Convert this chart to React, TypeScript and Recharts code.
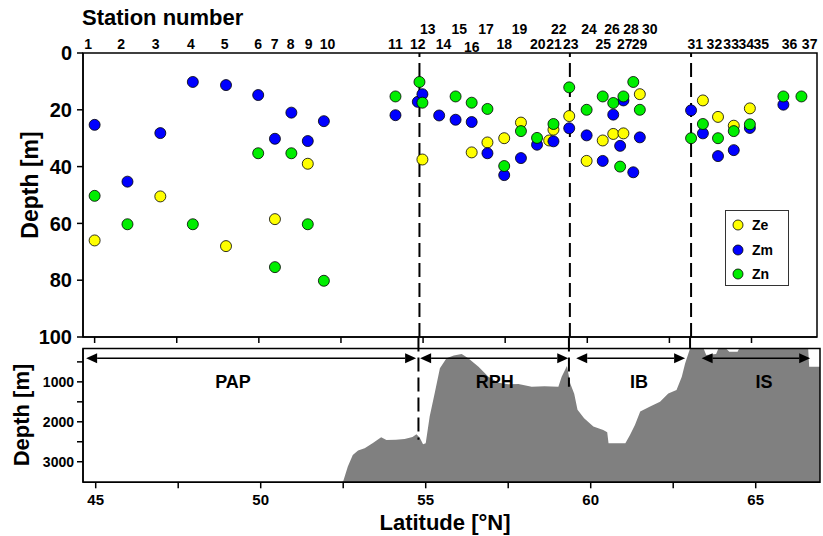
import React from "react";
import {
  ScatterChart,
  Scatter,
  ComposedChart,
  Area,
  XAxis,
  YAxis,
  ReferenceLine,
  ReferenceArea,
  ReferenceDot,
  Legend,
} from "recharts";

const FONT = "'Liberation Sans', Arial, sans-serif";

// station labels along the top: number, latitude of the label, row (0 low, 1 high, 2 dropped)
const stationNumbers = [
  1, 2, 3, 4, 5, 6, 7, 8, 9, 10, 11, 12, 13, 14, 15, 16, 17, 18, 19, 20, 21, 22, 23, 24, 25, 26, 27, 28,
  29, 30, 31, 32, 33, 34, 35, 36, 37,
];
const stationLabelLat = [
  44.8, 45.81, 46.86, 47.93, 48.96, 49.98, 50.48, 50.97, 51.52, 52.09, 54.16, 54.84, 55.14, 55.62, 56.1,
  56.48, 56.92, 57.47, 57.94, 58.49, 58.99, 59.13, 59.5, 60.05, 60.49, 60.75, 61.14, 61.33, 61.59, 61.9,
  63.29, 63.87, 64.38, 64.84, 65.3, 66.16, 66.77,
];
const stationRow = [
  0, 0, 0, 0, 0, 0, 0, 0, 0, 0, 0, 0, 1, 0, 1, 2, 1, 0, 1, 0, 0, 1, 0, 1, 0, 1, 0, 1, 0, 1, 0, 0, 0, 0, 0,
  0, 0,
];

// euphotic depth
const zeData = [
  { lat: 45.0, depth: 66 }, { lat: 47.0, depth: 50.5 }, { lat: 49.0, depth: 68 },
  { lat: 50.49, depth: 58.5 }, { lat: 51.49, depth: 39 }, { lat: 54.98, depth: 37.5 },
  { lat: 56.48, depth: 35 }, { lat: 56.96, depth: 31.5 }, { lat: 57.47, depth: 30 },
  { lat: 57.98, depth: 24.5 }, { lat: 58.84, depth: 30.8 }, { lat: 58.97, depth: 27 },
  { lat: 59.45, depth: 22.2 }, { lat: 59.98, depth: 38 }, { lat: 60.47, depth: 30.8 },
  { lat: 60.79, depth: 28.5 }, { lat: 61.1, depth: 28.3 }, { lat: 61.6, depth: 14.5 },
  { lat: 63.52, depth: 16.7 }, { lat: 63.98, depth: 22.5 }, { lat: 64.46, depth: 25.6 },
  { lat: 64.95, depth: 19.5 },
];

// mixed layer depth
const zmData = [
  { lat: 45.0, depth: 25.3 }, { lat: 46.0, depth: 45.3 }, { lat: 47.0, depth: 28.2 },
  { lat: 47.99, depth: 10.2 }, { lat: 49.0, depth: 11.3 }, { lat: 49.98, depth: 14.8 },
  { lat: 50.49, depth: 30.2 }, { lat: 50.99, depth: 21 }, { lat: 51.49, depth: 31 },
  { lat: 51.98, depth: 24 }, { lat: 54.16, depth: 21.9 }, { lat: 54.84, depth: 17.2 },
  { lat: 54.98, depth: 14.5 }, { lat: 55.49, depth: 22 }, { lat: 55.99, depth: 23.5 },
  { lat: 56.48, depth: 24.3 }, { lat: 56.96, depth: 35.3 }, { lat: 57.47, depth: 43 },
  { lat: 57.98, depth: 37 }, { lat: 58.47, depth: 32.3 }, { lat: 58.97, depth: 31.1 },
  { lat: 59.45, depth: 26.5 }, { lat: 59.98, depth: 29 }, { lat: 60.47, depth: 38 },
  { lat: 60.79, depth: 21.7 }, { lat: 61.0, depth: 32.7 }, { lat: 61.1, depth: 16.7 },
  { lat: 61.4, depth: 42 }, { lat: 61.6, depth: 29.7 }, { lat: 63.16, depth: 20.2 },
  { lat: 63.52, depth: 28.3 }, { lat: 63.98, depth: 36.3 }, { lat: 64.46, depth: 34.2 },
  { lat: 64.95, depth: 26.4 }, { lat: 65.97, depth: 18.2 },
];

// nitracline depth
const znData = [
  { lat: 45.0, depth: 50.3 }, { lat: 46.0, depth: 60.3 }, { lat: 47.99, depth: 60.3 },
  { lat: 49.98, depth: 35.3 }, { lat: 50.49, depth: 75.4 }, { lat: 50.99, depth: 35.3 },
  { lat: 51.49, depth: 60.3 }, { lat: 51.98, depth: 80.2 }, { lat: 54.16, depth: 15.3 },
  { lat: 54.89, depth: 10.2 }, { lat: 54.98, depth: 17.5 }, { lat: 55.99, depth: 15.3 },
  { lat: 56.48, depth: 17.5 }, { lat: 56.96, depth: 19.7 }, { lat: 57.47, depth: 39.8 },
  { lat: 57.98, depth: 27.5 }, { lat: 58.47, depth: 29.9 }, { lat: 58.97, depth: 25 },
  { lat: 59.45, depth: 12.1 }, { lat: 59.98, depth: 20 }, { lat: 60.47, depth: 15.3 },
  { lat: 60.79, depth: 17.6 }, { lat: 61.0, depth: 40 }, { lat: 61.1, depth: 15.3 },
  { lat: 61.4, depth: 10.2 }, { lat: 61.6, depth: 20 }, { lat: 63.16, depth: 30 },
  { lat: 63.52, depth: 25 }, { lat: 63.98, depth: 30 }, { lat: 64.46, depth: 27.5 },
  { lat: 64.95, depth: 25.1 }, { lat: 65.97, depth: 15.3 }, { lat: 66.52, depth: 15.3 },
];

const seriesNames = ["Ze", "Zm", "Zn"];
const seriesColors = ["#ffff00", "#0000ff", "#00ee00"];

// bathymetry along the transect
const bathyLat = [
  44.62, 52.45, 52.5, 52.64, 52.79, 52.95, 53.15, 53.4, 53.65, 53.81, 54.1, 54.36, 54.6, 54.72, 54.82,
  54.92, 55.0, 55.12, 55.27, 55.43, 55.63, 55.85, 56.09, 56.29, 56.6, 56.9, 57.2, 57.5, 57.81, 58.21,
  58.6, 59.02, 59.12, 59.28, 59.38, 59.5, 59.6, 59.8, 60.08, 60.38, 60.5, 60.54, 61.05, 61.19, 61.34,
  61.5, 61.8, 62.1, 62.35, 62.6, 62.76, 62.86, 63.01, 63.42, 63.5, 63.8, 63.87, 64.1, 64.2, 64.45, 64.5,
  66.59, 66.62, 66.95,
];
const bathyDepth = [
  3515, 3515, 3490, 3120, 2830, 2720, 2660, 2530, 2390, 2455, 2450, 2430, 2380, 2310, 2400, 2560, 2540,
  1870, 1290, 660, 410, 340, 305, 410, 620, 870, 1020, 1060, 1055, 1120, 1110, 1120, 870, 605, 1040,
  1300, 1700, 1910, 2120, 2205, 2260, 2540, 2540, 2330, 2080, 1745, 1620, 1500, 1290, 1205, 870, 540,
  165, 165, 330, 300, 165, 165, 245, 245, 165, 165, 620, 620,
];
const bathyData = bathyLat.map((lat, i) => ({ lat, depth: bathyDepth[i] }));

// province boundaries
const upperBoundaryLat = [54.89, 59.47, 63.16];
const lowerBoundaryLat = [54.78, 59.34, 63.01];
const boundaryFloor = [2450, 1120, 165];

// provinces
const regionNames = ["PAP", "RPH", "IB", "IS"];
const regionFrom = [44.71, 54.83, 59.56, 63.36];
const regionTo = [54.71, 59.32, 62.86, 66.65];
const regionLabelLat = [49.16, 57.09, 61.46, 65.25];

const latTicks = [45, 47.5, 50, 52.5, 55, 57.5, 60, 62.5, 65];
const depthTicks = [0, 20, 40, 60, 80, 100];
const bathyTicks = [500, 1000, 1500, 2000, 2500, 3000];

const UP_X: [number, number] = [44.646, 66.994];
const LOW_X: [number, number] = [44.615, 66.948];
const LOW_Y: [number, number] = [165, 3515];

const dotShape = (color: string) => (p: any) =>
  <circle cx={p.cx} cy={p.cy} r={5.5} fill={color} stroke="#000" strokeWidth={0.8} />;

const StationTick = (p: any) => {
  const i = stationLabelLat.indexOf(p.payload.value);
  const shift = [-3.7, -19, -1.3][stationRow[i]];
  return (
    <text x={p.x} y={p.y + shift} textAnchor="middle" fontFamily={FONT} fontSize={14} fontWeight="bold" fill="#000">
      {stationNumbers[i]}
    </text>
  );
};

const arrowShape = (p: any) => {
  const { x1, x2, y1 } = p;
  const h = 11;
  return (
    <g>
      <line x1={x1 + h} y1={y1} x2={x2 - h} y2={y1} stroke="#000" strokeWidth={1.6} />
      <polygon points={`${x1},${y1} ${x1 + h},${y1 - 5} ${x1 + h},${y1 + 5}`} fill="#000" />
      <polygon points={`${x2},${y1} ${x2 - h},${y1 - 5} ${x2 - h},${y1 + 5}`} fill="#000" />
    </g>
  );
};

const LegendBox = () => (
  <div
    style={{
      width: 64, height: 76, border: "1px solid #333", background: "#fff", boxSizing: "border-box",
      position: "relative", fontFamily: FONT,
    }}
  >
    {seriesNames.map((n, i) => (
      <div key={n} style={{ position: "absolute", left: 6, top: 7 + i * 24.5, height: 14, display: "flex", alignItems: "center" }}>
        <svg width={12} height={12}>
          <circle cx={6} cy={6} r={5} fill={seriesColors[i]} stroke="#000" strokeWidth={0.8} />
        </svg>
        <span style={{ marginLeft: 8, fontSize: 14, fontWeight: "bold", color: "#000" }}>{n}</span>
      </div>
    ))}
  </div>
);

const tickFont = { fill: "#000", fontFamily: FONT, fontWeight: "bold" };

export default function App() {
  return (
    <div style={{ position: "absolute", left: 0, top: 0, width: 823, height: 536, background: "#fff" }}>
      <div style={{ position: "absolute", left: 0, top: 337 }}>
        <ComposedChart width={823} height={199} data={bathyData} margin={{ top: 11.5, right: 3, bottom: 0, left: 0 }}>
          <XAxis
            type="number" dataKey="lat" domain={LOW_X} allowDataOverflow ticks={latTicks} interval={0}
            height={53.7} tickSize={6} tickMargin={6} stroke="#000" strokeWidth={1.5}
            tickFormatter={(v: number) => (v % 5 === 0 ? String(v) : "")}
            tick={{ ...tickFont, fontSize: 15 }}
          />
          <YAxis
            type="number" reversed domain={LOW_Y} allowDataOverflow ticks={bathyTicks} interval={0}
            width={83} tickSize={6} tickMargin={3} stroke="#000" strokeWidth={1.5}
            tickFormatter={(v: number) => (v % 1000 === 0 ? String(v) : "")}
            tick={{ ...tickFont, fontSize: 14 }}
          />
          <Area type="linear" dataKey="depth" baseValue={LOW_Y[1]} fill="#808080" fillOpacity={1}
            stroke="none" isAnimationActive={false} />
          {lowerBoundaryLat.map((lat, i) => (
            <ReferenceLine key={lat} segment={[{ x: lat, y: -110 }, { x: lat, y: boundaryFloor[i] }]}
              ifOverflow="visible" stroke="#000" strokeWidth={2} strokeDasharray="14 6" />
          ))}
          {regionNames.map((n, i) => (
            <ReferenceLine key={n + "a"} segment={[{ x: regionFrom[i], y: 410 }, { x: regionTo[i], y: 410 }]}
              ifOverflow="visible" shape={arrowShape} />
          ))}
          {regionNames.map((n, i) => (
            <ReferenceDot key={n} x={regionLabelLat[i]} y={1000} r={0} ifOverflow="visible"
              shape={(p: any) => (
                <text x={p.cx} y={p.cy} dy="0.36em" textAnchor="middle" fontFamily={FONT} fontSize={18}
                  fontWeight="bold" fill="#000">{n}</text>
              )} />
          ))}
          <ReferenceArea x1={LOW_X[0]} x2={LOW_X[1]} y1={LOW_Y[0]} y2={LOW_Y[1]} fill="none" fillOpacity={0}
            stroke="#000" strokeWidth={1.5} />
        </ComposedChart>
      </div>

      <div style={{ position: "absolute", left: 0, top: 0 }}>
        <ScatterChart width={823} height={356} margin={{ top: 0, right: 6, bottom: 11, left: 0 }}>
          <XAxis
            xAxisId="top" orientation="top" type="number" dataKey="lat" domain={UP_X} allowDataOverflow
            ticks={stationLabelLat} interval={0} height={53} axisLine={false} tickLine={false}
            tickSize={0} tickMargin={0} tick={(p: any) => <StationTick {...p} />}
          />
          <XAxis
            type="number" dataKey="lat" domain={UP_X} allowDataOverflow ticks={latTicks} interval={0}
            height={8} tickSize={6} tickFormatter={() => ""} stroke="#000" strokeWidth={1.5}
          />
          <YAxis
            type="number" dataKey="depth" reversed domain={[0, 100]} allowDataOverflow ticks={depthTicks}
            interval={0} width={83} tickSize={6} tickMargin={5} stroke="#000" strokeWidth={1.5}
            tick={{ ...tickFont, fontSize: 20 }}
          />
          <ReferenceArea x1={UP_X[0]} x2={UP_X[1]} y1={0} y2={100} fill="none" fillOpacity={0} stroke="#000" strokeWidth={1.5} />
          {upperBoundaryLat.map((lat) => (
            <ReferenceLine key={lat} x={lat} stroke="#000" strokeWidth={2} strokeDasharray="14 6" />
          ))}
          {[zeData, zmData, znData].map((d, i) => (
            <Scatter key={seriesNames[i]} name={seriesNames[i]} data={d} fill={seriesColors[i]}
              shape={dotShape(seriesColors[i])} isAnimationActive={false} />
          ))}
          <Legend layout="vertical" align="center" verticalAlign="middle" content={LegendBox}
            wrapperStyle={{ left: 725, top: 210, width: 64, height: 76 }} />
        </ScatterChart>
      </div>

      <svg width={823} height={536} style={{ position: "absolute", left: 0, top: 0, pointerEvents: "none" }}>
        <text x={82} y={25} fontFamily={FONT} fontSize={22} fontWeight="bold" fill="#000">Station number</text>
        <text x={38} y={185} transform="rotate(-90 38 185)" textAnchor="middle" fontFamily={FONT} fontSize={23}
          fontWeight="bold" fill="#000">Depth [m]</text>
        <text x={29} y={415} transform="rotate(-90 29 415)" textAnchor="middle" fontFamily={FONT} fontSize={22}
          fontWeight="bold" fill="#000">Depth [m]</text>
        <text x={445} y={529.5} textAnchor="middle" fontFamily={FONT} fontSize={22} fontWeight="bold"
          fill="#000">Latitude [°N]</text>
      </svg>
    </div>
  );
}
